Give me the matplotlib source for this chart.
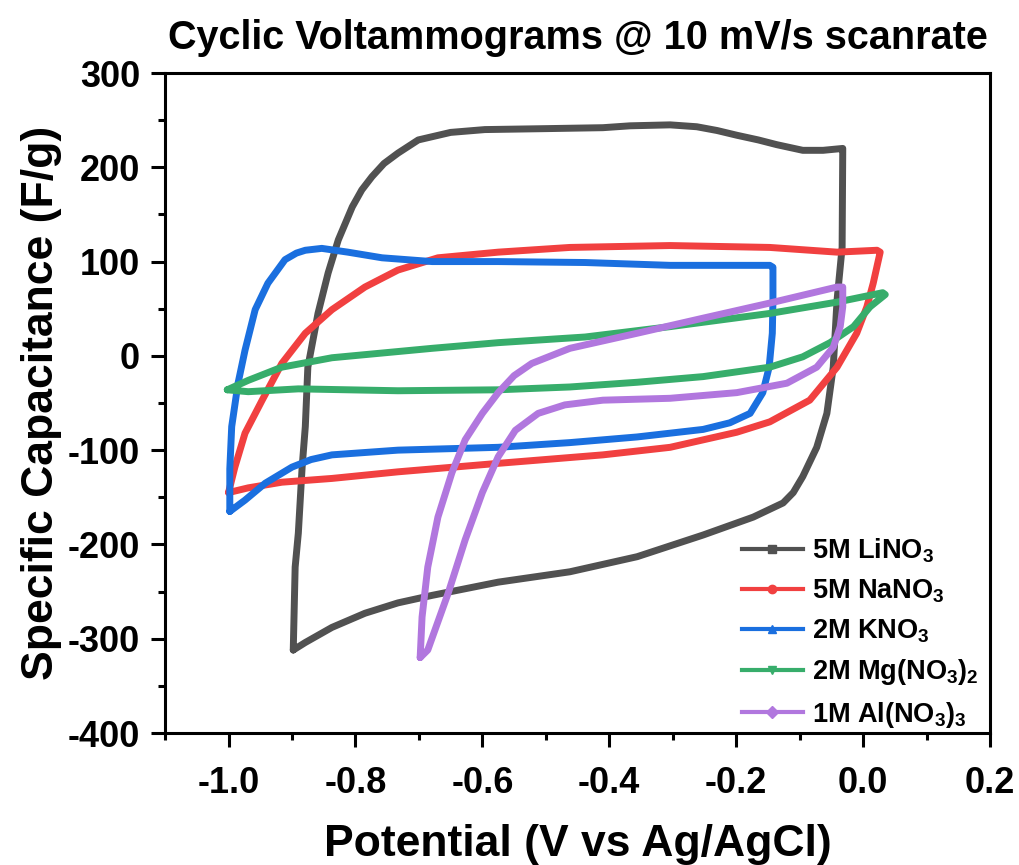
import matplotlib
matplotlib.use("Agg")
import matplotlib.pyplot as plt
from matplotlib.lines import Line2D
from matplotlib.ticker import MultipleLocator, FormatStrFormatter

plt.rcParams['font.family'] = ['Liberation Sans', 'DejaVu Sans']
plt.rcParams['font.weight'] = 'bold'
plt.rcParams['mathtext.fontset'] = 'custom'
plt.rcParams['mathtext.rm'] = 'Liberation Sans:bold'
plt.rcParams['mathtext.it'] = 'Liberation Sans:bold'
plt.rcParams['mathtext.bf'] = 'Liberation Sans:bold'
plt.rcParams['mathtext.default'] = 'rm'

# CV loops (potential in V, capacitance in F/g)
li_x = [-0.898, -0.895, -0.890, -0.884, -0.879, -0.875, -0.859, -0.843, -0.827, -0.805,
        -0.790, -0.774, -0.755, -0.733, -0.701, -0.650, -0.596, -0.500, -0.410, -0.367,
        -0.304, -0.262, -0.230, -0.199, -0.165, -0.136, -0.095, -0.063, -0.032, -0.032,
        -0.033, -0.036, -0.041, -0.047, -0.057, -0.073, -0.095, -0.110, -0.126, -0.173,
        -0.252, -0.356, -0.462, -0.575, -0.679, -0.733, -0.785, -0.837, -0.879, -0.898]
li_y = [-312, -224, -188, -118, -75, -12, 45, 88, 123, 158,
        176, 190, 204, 215, 229, 237, 240, 241, 242, 244,
        245, 243, 239, 234, 229, 224, 218, 218, 220, 218,
        115, 94, 59, -12, -61, -97, -128, -145, -156, -171,
        -190, -213, -229, -240, -254, -262, -273, -288, -304, -312]

na_x = [-1.000, -0.990, -0.974, -0.947, -0.916, -0.879, -0.837, -0.785, -0.733, -0.670,
        -0.575, -0.462, -0.304, -0.147, -0.041, 0.022, 0.027, 0.016, 0.006, -0.010,
        -0.041, -0.084, -0.147, -0.199, -0.304, -0.410, -0.575, -0.733, -0.837, -0.916,
        -0.969, -1.000]
na_y = [-145, -118, -82, -47, -8, 24, 49, 73, 91, 104,
        110, 115, 117, 115, 110, 112, 110, 77, 52, 24,
        -12, -47, -70, -81, -97, -105, -114, -123, -130, -134,
        -140, -145]

k_x = [-0.998, -0.998, -0.995, -0.985, -0.974, -0.958, -0.938, -0.911, -0.893, -0.879,
       -0.853, -0.812, -0.758, -0.679, -0.575, -0.438, -0.304, -0.147, -0.142, -0.142,
       -0.143, -0.148, -0.158, -0.178, -0.210, -0.252, -0.356, -0.462, -0.575, -0.733,
       -0.837, -0.870, -0.900, -0.942, -0.974, -0.998]
k_y = [-165, -120, -75, -29, 6, 49, 77, 102, 109, 112,
       114, 110, 104, 100, 100, 99, 96, 96, 94, 59,
       24, -12, -39, -61, -71, -78, -86, -92, -97, -100,
       -105, -110, -118, -135, -153, -165]

mg_x = [-1.002, -0.969, -0.916, -0.837, -0.679, -0.575, -0.438, -0.304, -0.147, -0.041,
        0.031, 0.035, 0.011, -0.015, -0.052, -0.095, -0.147, -0.252, -0.356, -0.462,
        -0.575, -0.733, -0.890, -0.969, -1.002]
mg_y = [-36, -26, -12, -2, 8, 14, 20, 31, 45, 57,
        67, 65, 52, 31, 14, -1, -12, -22, -28, -33,
        -36, -37, -35, -38, -36]

al_x = [-0.698, -0.695, -0.686, -0.670, -0.648, -0.627, -0.600, -0.575, -0.550, -0.522,
        -0.462, -0.356, -0.252, -0.147, -0.041, -0.032, -0.032, -0.036, -0.047, -0.073,
        -0.120, -0.199, -0.304, -0.410, -0.470, -0.512, -0.548, -0.575, -0.600, -0.627,
        -0.654, -0.686, -0.698]
al_y = [-320, -277, -224, -171, -124, -89, -61, -39, -21, -8,
        8, 24, 40, 56, 73, 73, 52, 31, 9, -12,
        -29, -39, -45, -47, -52, -61, -79, -107, -145, -195,
        -252, -312, -320]

labels = [r'5M LiNO$_3$', r'5M NaNO$_3$', r'2M KNO$_3$',
          r'2M Mg(NO$_3$)$_2$', r'1M Al(NO$_3$)$_3$']
colors = ['#515151', '#F14040', '#1A6FDF', '#37AD6B', '#B177DE']
markers = ['s', 'o', '^', 'v', 'D']

series = [(li_x, li_y), (na_x, na_y), (k_x, k_y), (mg_x, mg_y), (al_x, al_y)]

fig = plt.figure(figsize=(10.19, 8.65), dpi=100)
ax = fig.add_axes([0.162, 0.1526, 0.8095, 0.763])

for (xs, ys), c in zip(series, colors):
    ax.plot(xs, ys, color=c, lw=5, solid_joinstyle='round', solid_capstyle='round')

ax.set_xlim(-1.1, 0.2)
ax.set_ylim(-400, 300)
ax.xaxis.set_major_locator(MultipleLocator(0.2))
ax.xaxis.set_minor_locator(MultipleLocator(0.1))
ax.yaxis.set_major_locator(MultipleLocator(100))
ax.yaxis.set_minor_locator(MultipleLocator(50))
ax.xaxis.set_major_formatter(FormatStrFormatter('%.1f'))
ax.yaxis.set_major_formatter(FormatStrFormatter('%d'))
ax.tick_params(which='major', direction='out', length=10, width=2.2, labelsize=26, pad=8)
ax.tick_params(which='minor', direction='out', length=5, width=2.2)
ax.tick_params(axis='x', which='major', pad=14)
for s in ax.spines.values():
    s.set_linewidth(2.2)

ax.set_xlabel('Potential (V vs Ag/AgCl)', fontsize=32, fontweight='bold', labelpad=16)
ax.set_ylabel('Specific Capacitance (F/g)', fontsize=32, fontweight='bold', labelpad=4)
ax.set_title('Cyclic Voltammograms @ 10 mV/s scanrate', fontsize=28.5, fontweight='bold', pad=17)

handles = [Line2D([], [], color=c, lw=3, marker=m, markersize=6, label=l)
           for c, m, l in zip(colors, markers, labels)]
ax.legend(handles=handles, loc='lower left', bbox_to_anchor=(0.699, 0.005), frameon=False,
          fontsize=19.5, handlelength=2.25, handletextpad=0.33, labelspacing=0.46,
          borderpad=0, borderaxespad=0)

fig.savefig('out.png', dpi=100)
